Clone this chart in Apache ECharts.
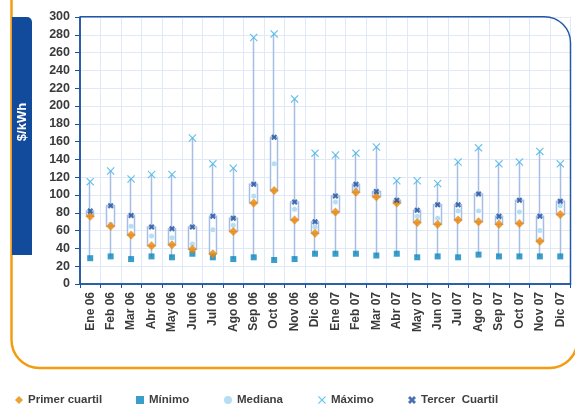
<!DOCTYPE html>
<html>
<head>
<meta charset="utf-8">
<script src="https://cdn.jsdelivr.net/npm/echarts@6/dist/echarts.min.js"></script>
<style>
  html, body { margin: 0; padding: 0; background: #ffffff; }
  #chart { width: 575px; height: 405px; }
</style>
</head>
<body>
<div id="chart"></div>
<script>
// Monthly price distribution, $/kWh
const categories = ['Ene 06','Feb 06','Mar 06','Abr 06','May 06','Jun 06','Jul 06','Ago 06','Sep 06','Oct 06','Nov 06','Dic 06',
                    'Ene 07','Feb 07','Mar 07','Abr 07','May 07','Jun 07','Jul 07','Ago 07','Sep 07','Oct 07','Nov 07','Dic 07'];
const minimo        = [29, 31, 28, 31, 30, 34, 30, 28, 30, 27, 28, 34, 34, 34, 32, 34, 30, 31, 30, 33, 31, 31, 31, 31];
const primerCuartil = [76, 65, 55, 43, 44, 39, 34, 59, 91, 105, 72, 57, 81, 103, 98, 91, 69, 67, 72, 70, 67, 68, 48, 78];
const mediana       = [79, 67, 65, 54, 52, 45, 61, 66, 99, 135, 84, 64, 92, 108, 102, 92, 76, 74, 82, 82, 74, 81, 60, 88];
const tercerCuartil = [82, 88, 77, 64, 62, 64, 76, 74, 112, 165, 92, 70, 99, 112, 104, 94, 83, 89, 89, 101, 76, 94, 76, 93];
const maximo        = [115, 127, 118, 123, 123, 164, 135, 130, 277, 281, 208, 147, 145, 147, 154, 116, 116, 113, 137, 153, 135, 137, 149, 135];
const yTicks = { min: 0, max: 300, interval: 20 };

// box = [Q1, Q3, min, max] so the wick spans min..max and the box Q1..Q3
const boxData = categories.map((_, i) => [primerCuartil[i], tercerCuartil[i], minimo[i], maximo[i]]);

const FONT = '"Liberation Sans", Arial, sans-serif';
const TXT = '#3a3a3a';
const AXIS_BLUE = '#1f4e9c';
const GRID_LINE = '#dfe9f7';

const crossThin  = 'path://M0,1L1,0L5,4L9,0L10,1L6,5L10,9L9,10L5,6L1,10L0,9L4,5Z';
const crossThick = 'path://M0,2.5L2.5,0L5,2.5L7.5,0L10,2.5L7.5,5L10,7.5L7.5,10L5,7.5L2.5,10L0,7.5L2.5,5Z';

const legendText = { fontFamily: FONT, fontWeight: 'bold', fontSize: 11.5, color: '#404040' };
function oneLegend(name, left, icon) {
  return {
    data: [{ name: name, icon: icon }],
    left: left, top: 389,
    itemWidth: 8, itemHeight: 8,
    textStyle: legendText,
    selectedMode: false
  };
}

const chart = echarts.init(document.getElementById('chart'), null, { renderer: 'canvas' });

chart.setOption({
  animation: false,
  backgroundColor: '#ffffff',
  grid: { left: 80, right: 4.5, top: 17, bottom: 121, containLabel: false },
  legend: [
    oneLegend('Primer cuartil', 10, 'diamond'),
    oneLegend('Mínimo', 131, 'rect'),
    oneLegend('Mediana', 219, 'circle'),
    oneLegend('Máximo', 313, crossThin),
    oneLegend('Tercer  Cuartil', 403, crossThick)
  ],
  xAxis: {
    type: 'category',
    data: categories,
    boundaryGap: true,
    axisLine: { lineStyle: { color: AXIS_BLUE, width: 1.5 } },
    axisTick: { show: true, length: 4, interval: 0, lineStyle: { color: AXIS_BLUE } },
    axisLabel: { interval: 0, rotate: 90, margin: 8, fontFamily: FONT, fontWeight: 'bold', fontSize: 12, color: TXT },
    splitLine: { show: true, interval: 0, lineStyle: { color: GRID_LINE, width: 1 } }
  },
  yAxis: {
    type: 'value',
    min: yTicks.min, max: yTicks.max, interval: yTicks.interval,
    axisLine: { show: true, lineStyle: { color: AXIS_BLUE, width: 1.5 } },
    axisTick: { show: true, length: 5, lineStyle: { color: AXIS_BLUE } },
    axisLabel: { margin: 10, fontFamily: FONT, fontWeight: 'bold', fontSize: 12.5, color: TXT },
    splitLine: { show: true, lineStyle: { color: GRID_LINE, width: 1 } }
  },
  series: [
    {
      type: 'candlestick',
      name: 'rango',
      data: boxData,
      barWidth: 8,
      itemStyle: {
        color: '#ffffff', color0: '#ffffff',
        borderColor: '#a6bee6', borderColor0: '#a6bee6',
        borderWidth: 1.5
      },
      z: 2
    },
    {
      type: 'scatter', name: 'Mínimo', data: minimo,
      symbol: 'rect', symbolSize: 6,
      itemStyle: { color: '#0a84bd' }, z: 3
    },
    {
      type: 'scatter', name: 'Mediana', data: mediana,
      symbol: 'circle', symbolSize: 5,
      itemStyle: { color: '#a2d5f0' }, z: 3
    },
    {
      type: 'scatter', name: 'Primer cuartil', data: primerCuartil,
      symbol: 'diamond', symbolSize: 9,
      itemStyle: { color: '#ee8600' }, z: 4
    },
    {
      type: 'scatter', name: 'Máximo', data: maximo,
      symbol: crossThin, symbolSize: 8,
      itemStyle: { color: '#3fb2e4' }, z: 4
    },
    {
      type: 'scatter', name: 'Tercer  Cuartil', data: tercerCuartil,
      symbol: crossThick, symbolSize: 6,
      itemStyle: { color: '#1d4f9f' }, z: 5
    }
  ],
  graphic: [
    // outer orange frame
    {
      type: 'rect', z: 0, silent: true,
      shape: { x: 11.5, y: -40, width: 566, height: 408, r: 28 },
      style: { fill: 'none', stroke: '#f39c12', lineWidth: 2.5 }
    },
    // plot frame with rounded top-right corner
    {
      type: 'rect', z: 10, silent: true,
      shape: { x: 80, y: 16.7, width: 490.5, height: 267.3, r: [0, 26, 0, 0] },
      style: { fill: 'none', stroke: '#2257a8', lineWidth: 1.5 }
    },
    // unit tab
    {
      type: 'rect', z: 1, silent: true,
      shape: { x: 12, y: 17, width: 20, height: 238, r: [0, 5, 0, 0] },
      style: { fill: '#124b9c' }
    },
    {
      type: 'text', z: 2, silent: true,
      x: 22, y: 122, rotation: Math.PI / 2,
      style: {
        text: '$/kWh', fill: '#ffffff',
        font: 'bold 13px "Liberation Sans", Arial, sans-serif',
        align: 'center', verticalAlign: 'middle'
      }
    }
  ]
});
</script>
</body>
</html>
